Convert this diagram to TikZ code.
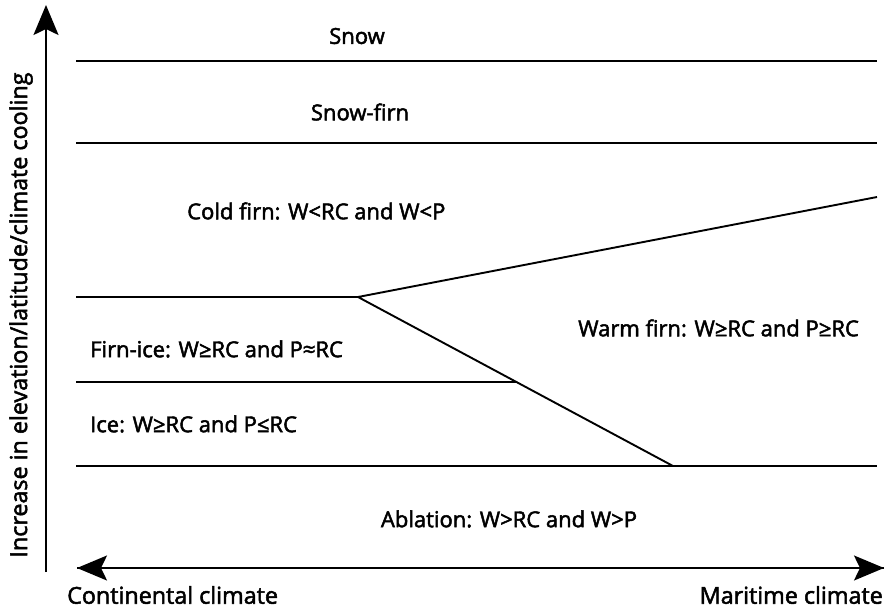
\documentclass[tikz,border=0pt]{standalone}
\usepackage{fontspec}
\setmainfont{Open Sans}
\newfontface\lblfont{Open Sans}[FakeBold=2.2]
\usetikzlibrary{arrows.meta}
\begin{document}
\begin{tikzpicture}[x=1pt,y=-1pt,
  zone/.style={line width=1.9pt},
  axis/.style={line width=1.9pt,-{Stealth[length=30pt,width=25pt,inset=6pt]}},
  lbl/.style={font=\lblfont\fontsize{22}{26}\selectfont,inner sep=0pt},
  big/.style={font=\lblfont\fontsize{23.3}{27}\selectfont,inner sep=0pt}]
\useasboundingbox (0,0) rectangle (889,610);
% axes
\coordinate (vb) at (46,572);
\coordinate (vt) at (46,5);
\draw[axis] (vb) -- (vt);
\coordinate (hl) at (77,568);
\coordinate (hr) at (884,568);
\draw[axis] (hl) -- (hr);
\draw[axis] (hr) -- (hl);
% lines
\coordinate (a1) at (76,61);  \coordinate (b1) at (877,61);
\coordinate (a2) at (76,143); \coordinate (b2) at (877,143);
\coordinate (a3) at (76,297); \coordinate (j) at (358,297);
\coordinate (a4) at (76,382); \coordinate (b4) at (516,382);
\coordinate (a5) at (76,466); \coordinate (b5) at (877,466);
\coordinate (tr) at (877,197); \coordinate (lo) at (673,466);
\draw[zone] (a1) -- (b1);
\draw[zone] (a2) -- (b2);
\draw[zone] (a3) -- (j);
\draw[zone] (a4) -- (b4);
\draw[zone] (a5) -- (b5);
\draw[zone] (tr) -- (j) -- (lo);
% labels
\node[lbl] (snow) at (357,36) {Snow};
\node[lbl] (sf) at (360,112) {Snow-firn};
\node[lbl,anchor=west] (cf) at (187,211) {Cold firn: W<RC and W<P};
\node[lbl,anchor=west] (wf) at (578,328) {Warm firn: W≥RC and P≥RC};
\node[lbl,anchor=west] (fi) at (90,349) {Firn-ice: W≥RC and P≈RC};
\node[lbl,anchor=west] (ice) at (90,424) {Ice: W≥RC and P≤RC};
\node[lbl] (abl) at (509,519) {Ablation: W>RC and W>P};
\node[big,anchor=west] (cc) at (67,595) {Continental climate};
\node[big,anchor=east] (mc) at (883,595) {Maritime climate};
\node[big,rotate=90] (yl) at (21,315) {Increase in elevation/latitude/climate cooling};
\end{tikzpicture}
\end{document}
